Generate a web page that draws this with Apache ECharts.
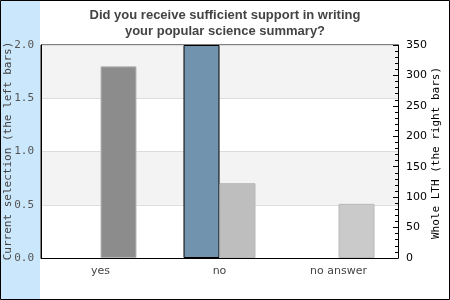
<!DOCTYPE html>
<html><head><meta charset="utf-8">
<script src="https://cdn.jsdelivr.net/npm/echarts@6/dist/echarts.min.js"></script>
<style>html,body{margin:0;padding:0;background:#fff}#c{width:450px;height:300px}</style>
</head><body><div id="c"></div>
<script>
var categories = ['yes', 'no', 'no answer'];
var currentSelection = [null, 2.0, null];
var wholeLTH = [315, 123, 89];
var leftTicks = ['0.0', '0.5', '1.0', '1.5', '2.0'];
var leftAxisName = 'Current selection (the left bars)';
var rightAxisName = 'Whole LTH (the right bars)';
var rightColors = ['#8c8c8c', '#bebebe', '#cacaca'];

var chart = echarts.init(document.getElementById('c'), null, {renderer: 'canvas'});
chart.setOption({
  animation: false,
  backgroundColor: '#fff',
  graphic: [
    {type: 'rect', shape: {x: 0, y: 0, width: 40, height: 300}, style: {fill: '#cbe7fb'}, z: -10},
    {type: 'rect', shape: {x: 0.5, y: 0.5, width: 449, height: 299}, style: {fill: null, stroke: '#000', lineWidth: 1}, z: 100},
    {type: 'text', x: 8, y: 151, rotation: Math.PI / 2, z: 50,
      style: {text: leftAxisName, font: '11px "DejaVu Sans Mono"', fill: '#444', align: 'center', verticalAlign: 'middle'}},
    {type: 'text', x: 436, y: 153, rotation: Math.PI / 2, z: 50,
      style: {text: rightAxisName, font: '11px "DejaVu Sans Mono"', fill: '#000', align: 'center', verticalAlign: 'middle'}}
  ],
  title: {
    text: 'Did you receive sufficient support in writing\nyour popular science summary?',
    left: 'center', top: 2,
    textStyle: {fontFamily: 'Liberation Sans, Arial', fontWeight: 'bold', fontSize: 13, color: '#444', lineHeight: 16}
  },
  grid: {left: 41, right: 52, top: 45, bottom: 42, show: true, borderColor: '#000', borderWidth: 1,
    containLabel: false, outerBoundsMode: 'none'},
  xAxis: {
    type: 'category', data: categories,
    axisLine: {lineStyle: {color: '#000'}},
    axisTick: {show: false},
    axisLabel: {color: '#444', fontFamily: 'DejaVu Sans', fontSize: 11, margin: 8}
  },
  yAxis: [
    {
      type: 'value', min: 0, max: 2, interval: 0.5, position: 'left',
      axisLine: {show: true, lineStyle: {color: '#000'}},
      axisTick: {show: false},
      axisLabel: {color: '#555', fontFamily: 'DejaVu Sans Mono', fontSize: 11, margin: 7,
        formatter: function (v) { return leftTicks[Math.round(v / 0.5)]; }},
      splitLine: {show: true, lineStyle: {color: '#dcdcdc'}},
      splitArea: {show: true, areaStyle: {color: ['#ffffff', '#f3f3f3']}}
    },
    {
      type: 'value', min: 0, max: 350, interval: 50, position: 'right',
      axisLine: {show: true, lineStyle: {color: '#000'}},
      axisTick: {show: true, inside: true, length: 5, lineStyle: {color: '#000'}},
      minorTick: {show: true, splitNumber: 5, length: 3, lineStyle: {color: '#000'}},
      axisLabel: {color: '#000', fontFamily: 'DejaVu Sans', fontSize: 11, margin: 8},
      splitLine: {show: false}
    }
  ],
  series: [
    {
      type: 'bar', yAxisIndex: 0, data: currentSelection, barWidth: 36, barGap: '0%',
      itemStyle: {color: '#7293ae', borderColor: '#000', borderWidth: 1}
    },
    {
      type: 'bar', yAxisIndex: 1, barWidth: 36,
      data: wholeLTH.map(function (v, i) {
        return {value: v, itemStyle: {color: rightColors[i], borderColor: '#b8b8b8', borderWidth: 1}};
      })
    }
  ]
});
</script></body></html>
